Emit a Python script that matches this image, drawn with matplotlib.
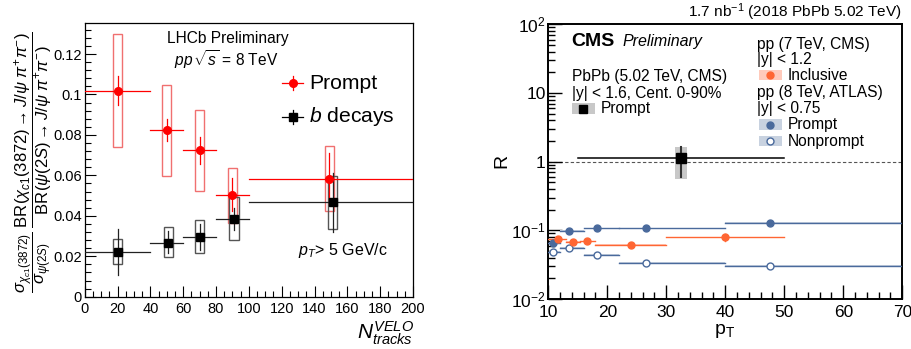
import matplotlib
matplotlib.use("Agg")
import matplotlib.pyplot as plt
from matplotlib.patches import Rectangle
from matplotlib.lines import Line2D
from matplotlib.ticker import MultipleLocator, LogLocator, NullFormatter

plt.rcParams['font.family'] = ['Liberation Sans', 'DejaVu Sans']
plt.rcParams['mathtext.fontset'] = 'custom'
plt.rcParams['mathtext.rm'] = 'Liberation Sans'
plt.rcParams['mathtext.it'] = 'Liberation Sans:italic'
plt.rcParams['mathtext.bf'] = 'Liberation Sans:bold'

# -----------------------------
# DATA
# -----------------------------

# left: LHCb ratio vs N_tracks
ntrk_lo = [0, 40, 60, 80, 100]
ntrk_hi = [40, 60, 80, 100, 200]

prompt_x = [20, 50, 70, 90, 149]
prompt_y = [0.1019, 0.0824, 0.0724, 0.0501, 0.0582]
prompt_stat_lo = [0.0950, 0.0768, 0.0658, 0.0425, 0.0453]
prompt_stat_hi = [0.1090, 0.0880, 0.0790, 0.0585, 0.0709]
prompt_sys_lo = [0.0742, 0.0597, 0.0523, 0.0363, 0.0424]
prompt_sys_hi = [0.1299, 0.1047, 0.0923, 0.0638, 0.0747]

bdec_x = [20, 51, 70, 91, 151]
bdec_y = [0.0222, 0.0267, 0.0295, 0.0386, 0.0467]
bdec_stat_lo = [0.0107, 0.0215, 0.0231, 0.0330, 0.0321]
bdec_stat_hi = [0.0333, 0.0325, 0.0359, 0.0440, 0.0610]
bdec_sys_lo = [0.0160, 0.0195, 0.0215, 0.0280, 0.0335]
bdec_sys_hi = [0.0287, 0.0343, 0.0379, 0.0494, 0.0597]

# right: CMS PbPb / pp comparisons vs pT
pbpb_pt = [32.5]
pbpb_lo = [15]
pbpb_hi = [50]
pbpb_R = [1.12]
pbpb_stat_lo = [0.60]
pbpb_stat_hi = [1.64]
pbpb_sys_lo = [0.56]
pbpb_sys_hi = [1.64]

cms7_pt = [11.7, 14.2, 16.5, 24.0, 40.0]
cms7_lo = [10, 13, 15.3, 18, 30]
cms7_hi = [13, 15.3, 18, 30, 50]
cms7_R = [0.074, 0.068, 0.069, 0.061, 0.079]
cms7_err = [0.003, 0.003, 0.003, 0.003, 0.008]

atlas_pt = [10.85, 13.5, 18.2, 26.6, 47.6]
atlas_lo = [10, 12, 16, 22, 40]
atlas_hi = [12, 16, 22, 40, 70]
atlas_prompt = [0.066, 0.099, 0.107, 0.107, 0.129]
atlas_nonprompt = [0.048, 0.055, 0.0443, 0.0332, 0.0303]

# -----------------------------
# FIGURE
# -----------------------------
W, H = 912, 349
fig = plt.figure(figsize=(W / 100, H / 100), dpi=100)


def fx(px):
    return px / W


def fy(py):
    return 1 - py / H


RED = "#ff0000"
RED_BOX = "#f07070"
ORANGE = "#ff6633"
BLUE = "#4a6a9c"
BLUE_LIGHT = "#c8d2e0"
PINK = "#ffcabb"

# ---------- left panel ----------
ax1 = fig.add_axes([fx(84.7), fy(296.7), fx(413) - fx(84.7), fy(23.3) - fy(296.7)])
ax1.set_xlim(0, 200)
ax1.set_ylim(0, 0.1352)

for i in range(len(prompt_x)):
    ax1.add_patch(Rectangle((prompt_x[i] - 2.8, prompt_sys_lo[i]), 5.6,
                            prompt_sys_hi[i] - prompt_sys_lo[i],
                            fill=False, ec=RED_BOX, lw=1.0, zorder=2))
    ax1.add_patch(Rectangle((bdec_x[i] - 2.8, bdec_sys_lo[i]), 5.6,
                            bdec_sys_hi[i] - bdec_sys_lo[i],
                            fill=False, ec="#555555", lw=1.0, zorder=2))
    ax1.plot([ntrk_lo[i], ntrk_hi[i]], [prompt_y[i]] * 2, color=RED, lw=0.9, zorder=3)
    ax1.plot([prompt_x[i]] * 2, [prompt_stat_lo[i], prompt_stat_hi[i]], color=RED, lw=0.9, zorder=3)
    ax1.plot([ntrk_lo[i], ntrk_hi[i]], [bdec_y[i]] * 2, color="#222222", lw=0.9, zorder=3)
    ax1.plot([bdec_x[i]] * 2, [bdec_stat_lo[i], bdec_stat_hi[i]], color="#222222", lw=0.9, zorder=3)

ax1.plot(prompt_x, prompt_y, "o", color=RED, ms=5.5, ls="none", zorder=4)
ax1.plot(bdec_x, bdec_y, "s", color="black", ms=5.5, ls="none", zorder=4)

ax1.xaxis.set_major_locator(MultipleLocator(20))
ax1.xaxis.set_minor_locator(MultipleLocator(5))
ax1.yaxis.set_minor_locator(MultipleLocator(0.004))
ax1.set_yticks([0, 0.02, 0.04, 0.06, 0.08, 0.1, 0.12])
ax1.set_yticklabels(["0", "0.02", "0.04", "0.06", "0.08", "0.1", "0.12"])
ax1.tick_params(which="both", direction="in", labelsize=10.5, width=0.8)
ax1.tick_params(which="major", length=8)
ax1.tick_params(which="minor", length=4)
ax1.tick_params(axis="y", pad=2)
for s in ax1.spines.values():
    s.set_linewidth(0.9)

fig.text(fx(227.5), fy(38), "LHCb Preliminary", ha="center", va="center", fontsize=11.2)
fig.text(fx(226.5), fy(60), r"$pp\,\sqrt{s}$ = 8 TeV", ha="center", va="center", fontsize=11.2)

# legend (manual)
for py, mk, col, lab in [(83.3, "o", RED, "Prompt"), (116.7, "s", "black", r"$b$ decays")]:
    fig.add_artist(Line2D([fx(282), fx(303)], [fy(py)] * 2, color=col, lw=0.9))
    fig.add_artist(Line2D([fx(292.7)] * 2, [fy(py - 7), fy(py + 7)], color=col, lw=0.9))
    fig.add_artist(Line2D([fx(292.7)], [fy(py)], marker=mk, color=col, ms=5.5, ls="none"))
    fig.text(fx(309), fy(py), lab, ha="left", va="center", fontsize=15.2)

fig.text(fx(298), fy(251), r"$p_{T}$> 5 GeV/c", ha="left", va="center", fontsize=11.5)

fig.text(fx(414), fy(339), r"$N_{tracks}^{VELO}$", ha="right", va="baseline", fontsize=15)

ylab = (r"$\dfrac{\sigma_{\chi_{c1}(3872)}}{\sigma_{\psi(2S)}}\ "
        r"\dfrac{\mathrm{BR}(\chi_{c1}(3872)\rightarrow J/\psi\ \pi^{+}\pi^{-})}"
        r"{\mathrm{BR}(\psi(2S)\rightarrow J/\psi\ \pi^{+}\pi^{-})}$")
fig.text(fx(33), fy(162), ylab, rotation=90, ha="center", va="center", fontsize=12)

# ---------- right panel ----------
ax2 = fig.add_axes([fx(548.3), fy(299), fx(902.3) - fx(548.3), fy(24.3) - fy(299)])
ax2.set_xlim(10, 70)
ax2.set_yscale("log")
ax2.set_ylim(0.01, 100)

ax2.axhline(1, color="#555555", lw=0.8, ls=(0, (3, 2)), zorder=1)


def bands(xc, lo, hi, y, col, light, filled):
    for i in range(len(xc)):
        ax2.add_patch(Rectangle((lo[i], y[i] * 0.975), hi[i] - lo[i], y[i] * 0.05,
                                color=light, lw=0, zorder=2))
        ax2.plot([lo[i], hi[i]], [y[i]] * 2, color=col, lw=1.0, zorder=3)
    ax2.plot(xc, y, "o", ms=5, ls="none", zorder=5,
             mfc=col if filled else "white", mec=col, mew=1.0)


bands(atlas_pt, atlas_lo, atlas_hi, atlas_nonprompt, BLUE, BLUE_LIGHT, False)
bands(atlas_pt, atlas_lo, atlas_hi, atlas_prompt, BLUE, BLUE_LIGHT, True)
for i in range(len(cms7_pt)):
    ax2.plot([cms7_pt[i]] * 2, [cms7_R[i] - cms7_err[i], cms7_R[i] + cms7_err[i]],
             color=ORANGE, lw=1.0, zorder=3)
bands(cms7_pt, cms7_lo, cms7_hi, cms7_R, ORANGE, PINK, True)

for i in range(len(pbpb_pt)):
    ax2.add_patch(Rectangle((pbpb_pt[i] - 1.0, pbpb_sys_lo[i]), 2.0,
                            pbpb_sys_hi[i] - pbpb_sys_lo[i],
                            color="#c8c8c8", lw=0, zorder=2))
    ax2.plot([pbpb_lo[i], pbpb_hi[i]], [pbpb_R[i]] * 2, color="black", lw=1.1, zorder=3)
    ax2.plot([pbpb_pt[i]] * 2, [pbpb_stat_lo[i], pbpb_stat_hi[i]], color="#333333", lw=1.5, zorder=3)
ax2.plot(pbpb_pt, pbpb_R, "s", color="black", ms=6.5, ls="none", zorder=5)

ax2.xaxis.set_major_locator(MultipleLocator(10))
ax2.xaxis.set_minor_locator(MultipleLocator(2))
ax2.set_yticks([0.01, 0.1, 1, 10, 100])
ax2.set_yticklabels([r"$10^{-2}$", r"$10^{-1}$", "1", "10", r"$10^{2}$"])
ax2.yaxis.set_minor_locator(LogLocator(base=10, subs=range(2, 10)))
ax2.yaxis.set_minor_formatter(NullFormatter())
ax2.tick_params(which="both", direction="in", labelsize=12.5, width=1.0)
ax2.tick_params(which="major", length=10)
ax2.tick_params(which="minor", length=5)
ax2.tick_params(axis="y", pad=2)
ax2.tick_params(axis="x", pad=4)
for s in ax2.spines.values():
    s.set_linewidth(1.4)

fig.text(fx(902), fy(12), r"1.7 nb$^{-1}$ (2018 PbPb 5.02 TeV)", ha="right", va="center", fontsize=11.1)
fig.text(fx(571.7), fy(41), "CMS", ha="left", va="center", fontsize=14, fontweight="bold")
fig.text(fx(622.5), fy(41.5), "Preliminary", ha="left", va="center", fontsize=11.5, style="italic")
fig.text(fx(571.7), fy(76.5), "PbPb (5.02 TeV, CMS)", ha="left", va="center", fontsize=11.2)
fig.text(fx(571.7), fy(93.3), "|y| < 1.6, Cent. 0-90%", ha="left", va="center", fontsize=11.2)
fig.add_artist(Rectangle((fx(571.7), fy(114.3)), fx(595) - fx(571.7), fy(103.3) - fy(114.3),
                         color="#c8c8c8", lw=0, transform=fig.transFigure))
fig.add_artist(Line2D([fx(583.3)], [fy(108.8)], marker="s", color="black", ms=6, ls="none"))
fig.text(fx(600.5), fy(108.5), "Prompt", ha="left", va="center", fontsize=11.2)

fig.text(fx(757.3), fy(44), "pp (7 TeV, CMS)", ha="left", va="center", fontsize=11.2)
fig.text(fx(757.3), fy(59.5), "|y| < 1.2", ha="left", va="center", fontsize=11.2)
fig.text(fx(757.3), fy(92.5), "pp (8 TeV, ATLAS)", ha="left", va="center", fontsize=11.2)
fig.text(fx(757.3), fy(108.5), "|y| < 0.75", ha="left", va="center", fontsize=11.2)
for py, col, box, filled, lab in [(75, ORANGE, PINK, True, "Inclusive"),
                                  (124.5, BLUE, BLUE_LIGHT, True, "Prompt"),
                                  (141, BLUE, BLUE_LIGHT, False, "Nonprompt")]:
    fig.add_artist(Rectangle((fx(759.3), fy(py + 5)), fx(781.7) - fx(759.3), fy(py - 5) - fy(py + 5),
                             color=box, lw=0, transform=fig.transFigure))
    fig.add_artist(Line2D([fx(770.5)], [fy(py)], marker="o", ms=5, ls="none",
                          mfc=col if filled else "white", mec=col, mew=1.0))
    fig.text(fx(787.7), fy(py), lab, ha="left", va="center", fontsize=11.2)

fig.text(fx(502), fy(161), "R", rotation=90, ha="center", va="center", fontsize=14)
fig.text(fx(725), fy(331), r"p$_{\mathrm{T}}$", ha="center", va="center", fontsize=14)

fig.savefig("out.png", dpi=100)
